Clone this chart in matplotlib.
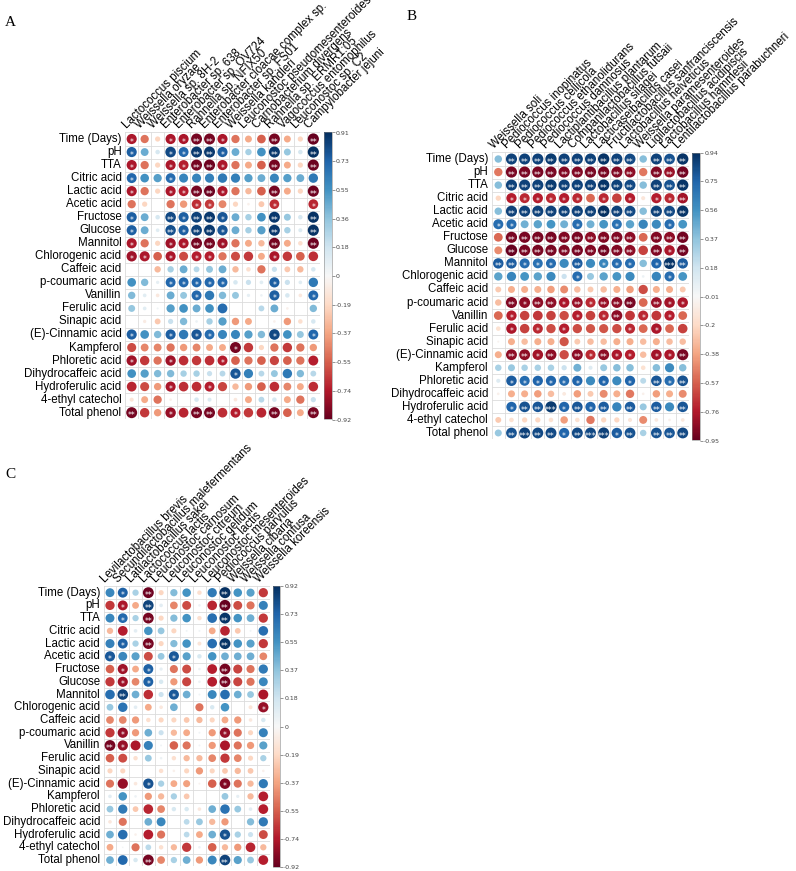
import numpy as np
import matplotlib.pyplot as plt
from matplotlib.patches import Circle
from matplotlib.cm import ScalarMappable
from matplotlib.colors import Normalize

rows = ['Time (Days)', 'pH', 'TTA', 'Citric acid', 'Lactic acid', 'Acetic acid',
        'Fructose', 'Glucose', 'Mannitol', 'Chlorogenic acid', 'Caffeic acid',
        'p-coumaric acid', 'Vanillin', 'Ferulic acid', 'Sinapic acid',
        '(E)-Cinnamic acid', 'Kampferol', 'Phloretic acid', 'Dihydrocaffeic acid',
        'Hydroferulic acid', '4-ethyl catechol', 'Total phenol']

# ---- panel A ----
colsA = ['Lactococcus piscium', 'Weissella oryzae', 'Weissella sp. 8H-2',
         'Enterobacter sp. 638', 'Enterobacter sp. OV724', 'Rahnella sp. NFIX50',
         'Enterobacter cloacae complex sp.', 'Enterobacter sp. FS01',
         'Weissella kandleri', 'Leuconostoc pseudomesenteroides',
         'Carnobacterium divergens', 'Rahnella sp. ERMR1:05',
         'Vagococcus entomophilus', 'Leuconostoc sp. C2', 'Campylobacter jejuni']
rA = [
    [-0.75, -0.5, -0.2, -0.75, -0.75, -0.88, -0.88, -0.75, -0.5, -0.35, -0.55, -0.88, -0.35, -0.2, -0.92],
    [0.75, 0.45, 0.15, 0.82, 0.72, 0.88, 0.88, 0.75, 0.45, 0.3, 0.55, 0.88, 0.35, 0.15, 0.91],
    [-0.75, -0.5, -0.2, -0.75, -0.72, -0.88, -0.9, -0.75, -0.5, -0.35, -0.55, -0.88, -0.35, -0.2, -0.9],
    [0.72, 0.55, 0.5, 0.7, 0.6, 0.6, 0.62, 0.65, 0.62, 0.5, 0.45, 0.6, 0.5, 0.45, 0.65],
    [-0.75, -0.5, -0.2, -0.75, -0.72, -0.88, -0.9, -0.75, -0.5, -0.3, -0.55, -0.88, -0.35, -0.2, -0.9],
    [-0.5, -0.2, 0.0, -0.5, -0.4, -0.68, -0.65, -0.45, -0.2, -0.05, -0.25, -0.68, 0.0, 0.0, -0.7],
    [0.75, 0.45, 0.15, 0.82, 0.75, 0.85, 0.88, 0.78, 0.45, 0.3, 0.55, 0.88, 0.35, 0.15, 0.9],
    [0.75, 0.45, 0.1, 0.8, 0.75, 0.85, 0.88, 0.78, 0.45, 0.3, 0.5, 0.88, 0.3, 0.12, 0.9],
    [-0.75, -0.5, -0.2, -0.78, -0.75, -0.88, -0.88, -0.78, -0.5, -0.35, -0.3, -0.88, -0.35, -0.15, -0.9],
    [-0.78, -0.75, -0.55, -0.75, -0.6, -0.72, -0.72, -0.5, -0.6, -0.65, -0.35, -0.75, -0.65, -0.55, -0.68],
    [0.0, 0.0, -0.3, 0.3, 0.45, 0.25, 0.35, 0.45, -0.3, -0.15, -0.5, 0.2, -0.25, -0.3, 0.15],
    [0.55, 0.4, 0.08, 0.72, 0.72, 0.72, 0.72, 0.72, 0.15, 0.2, 0.1, 0.75, 0.2, 0.1, 0.65],
    [0.4, 0.1, -0.1, 0.45, 0.35, 0.72, 0.65, 0.4, 0.35, 0.08, 0.05, 0.75, 0.15, -0.1, 0.72],
    [0.35, 0.1, 0.03, 0.5, 0.55, 0.45, 0.55, 0.7, 0.0, 0.0, 0.25, 0.45, -0.05, 0.0, 0.4],
    [0.0, -0.08, -0.25, 0.2, 0.4, 0.05, 0.3, 0.5, -0.4, -0.35, 0.0, -0.05, -0.4, -0.15, 0.15],
    [0.75, 0.55, 0.4, 0.75, 0.65, 0.78, 0.7, 0.6, 0.6, 0.5, 0.4, 0.82, 0.55, 0.35, 0.72],
    [-0.6, -0.45, -0.45, -0.5, -0.4, -0.45, -0.35, -0.35, -0.88, -0.65, -0.2, -0.5, -0.65, -0.5, -0.4],
    [-0.78, -0.65, -0.5, -0.78, -0.68, -0.65, -0.68, -0.72, -0.55, -0.5, -0.55, -0.62, -0.55, -0.5, -0.72],
    [0.55, 0.5, 0.4, 0.4, 0.3, 0.3, 0.2, 0.25, 0.78, 0.62, 0.25, 0.35, 0.65, 0.4, 0.25],
    [-0.7, -0.6, -0.4, -0.75, -0.68, -0.68, -0.72, -0.62, -0.3, -0.4, -0.55, -0.68, -0.45, -0.35, -0.68],
    [-0.12, -0.35, -0.5, -0.05, 0.0, 0.15, 0.12, 0.0, -0.1, -0.35, 0.25, 0.15, -0.35, -0.5, 0.2],
    [-0.88, -0.65, -0.4, -0.8, -0.7, -0.88, -0.88, -0.68, -0.72, -0.65, -0.7, -0.88, -0.55, -0.35, -0.88],
]
# number of stars per cell
sigA = ['100112210002002', '100112210002002', '100112210002002', '100100000000000',
        '100112210002002', '000001100001001', '100212210002002', '100212210002002',
        '100112210002002', '110101100001000', '000000000000000', '000111110001000',
        '000001000001001', '000000000000000', '000000000000000', '100101100001001',
        '000000001000000', '100100010000000', '000000001000000', '000100100000000',
        '000000000000000', '200102201002002']
ticksA = ['-0.92', '-0.74', '-0.55', '-0.37', '-0.19', '0', '0.18', '0.36', '0.55', '0.73', '0.91']

# ---- panel B ----
colsB = ['Weissella soli', 'Pediococcus inopinatus', 'Pediococcus cellicola',
         'Pediococcus ethanolidurans', 'Pediococcus damnosus',
         'Lactiplantibacillus plantarum', 'Companilactobacillus futsaii',
         'Lactobacillus silagei', 'Lacticaseibacillus casei',
         'Fructilactobacillus sanfranciscensis', 'Lactobacillus helveticus',
         'Weissella paramesenteroides', 'Ligilactobacillus acidipiscis',
         'Lactobacillus hammesii', 'Lentilactobacillus parabuchneri']
rB = [
    [0.4, 0.88, 0.88, 0.88, 0.9, 0.88, 0.88, 0.88, 0.92, 0.88, 0.85, 0.4, 0.88, 0.82, 0.92],
    [-0.5, -0.9, -0.9, -0.9, -0.9, -0.88, -0.88, -0.9, -0.9, -0.88, -0.85, -0.5, -0.88, -0.82, -0.92],
    [0.4, 0.88, 0.88, 0.88, 0.9, 0.88, 0.88, 0.88, 0.92, 0.88, 0.85, 0.4, 0.88, 0.82, 0.92],
    [-0.2, -0.75, -0.72, -0.75, -0.72, -0.75, -0.72, -0.55, -0.72, -0.65, -0.75, -0.12, -0.75, -0.72, -0.8],
    [0.4, 0.88, 0.88, 0.88, 0.88, 0.88, 0.88, 0.88, 0.94, 0.88, 0.85, 0.4, 0.88, 0.85, 0.92],
    [0.72, 0.72, 0.45, 0.5, 0.55, 0.45, 0.72, 0.45, 0.55, 0.7, 0.5, 0.62, 0.6, 0.72, 0.55],
    [-0.55, -0.9, -0.9, -0.9, -0.9, -0.88, -0.9, -0.85, -0.88, -0.88, -0.85, -0.55, -0.88, -0.85, -0.92],
    [-0.45, -0.95, -0.9, -0.9, -0.9, -0.88, -0.9, -0.88, -0.92, -0.88, -0.85, -0.65, -0.88, -0.78, -0.92],
    [0.78, 0.78, 0.72, 0.7, 0.72, 0.6, 0.78, 0.6, 0.62, 0.72, 0.72, 0.4, 0.75, 0.92, 0.78],
    [0.5, 0.62, 0.55, 0.5, 0.6, 0.2, 0.72, 0.35, 0.5, 0.55, 0.6, 0.05, 0.62, 0.72, 0.55],
    [-0.25, -0.35, -0.35, -0.35, -0.4, -0.45, -0.3, -0.25, -0.3, -0.35, -0.4, -0.62, -0.35, -0.35, -0.25],
    [-0.3, -0.88, -0.85, -0.85, -0.85, -0.78, -0.82, -0.72, -0.82, -0.85, -0.9, -0.55, -0.82, -0.8, -0.78],
    [-0.55, -0.75, -0.65, -0.68, -0.65, -0.62, -0.75, -0.65, -0.72, -0.85, -0.68, -0.72, -0.68, -0.75, -0.55],
    [-0.15, -0.78, -0.65, -0.72, -0.62, -0.75, -0.62, -0.6, -0.6, -0.62, -0.72, -0.55, -0.78, -0.55, -0.65],
    [-0.03, -0.35, -0.3, -0.35, -0.35, -0.6, -0.25, -0.3, -0.3, -0.35, -0.35, -0.3, -0.35, -0.3, -0.3],
    [-0.35, -0.85, -0.85, -0.8, -0.85, -0.62, -0.85, -0.72, -0.85, -0.78, -0.75, -0.3, -0.8, -0.78, -0.9],
    [0.3, 0.35, 0.3, 0.3, 0.3, 0.2, 0.45, 0.12, 0.35, 0.4, 0.4, -0.15, 0.4, 0.6, 0.4],
    [0.12, 0.78, 0.72, 0.75, 0.75, 0.72, 0.75, 0.6, 0.75, 0.6, 0.75, 0.25, 0.8, 0.72, 0.82],
    [-0.05, -0.35, -0.35, -0.4, -0.3, -0.1, -0.4, -0.25, -0.45, -0.35, -0.5, -0.05, -0.4, -0.35, -0.45],
    [0.0, 0.75, 0.82, 0.8, 0.9, 0.75, 0.8, 0.75, 0.78, 0.62, 0.78, 0.35, 0.78, 0.6, 0.8],
    [-0.25, -0.15, -0.2, -0.2, -0.15, -0.4, -0.15, -0.5, -0.2, -0.2, -0.12, -0.45, -0.1, -0.05, -0.1],
    [0.35, 0.82, 0.88, 0.85, 0.85, 0.75, 0.85, 0.85, 0.88, 0.78, 0.82, 0.3, 0.82, 0.8, 0.85],
]
sigB = ['022222222220222', '022222222220222', '022222222220222', '011111101010112',
        '022222222220222', '110000100100010', '022222222220222', '022222222220212',
        '221110201110132', '000000100000010', '000000000000000', '021221212220211',
        '010000101201010', '010101000010100', '000000000000000', '022120212110112',
        '000000000000000', '011111101010212', '000000000000000', '012231212020202',
        '000000000000000', '023221233120222']
ticksB = ['-0.95', '-0.76', '-0.57', '-0.38', '-0.2', '-0.01', '0.18', '0.37', '0.56', '0.75', '0.94']

# ---- panel C ----
colsC = ['Levilactobacillus brevis', 'Secundilactobacillus malefermentans',
         'Latilactobacillus sakei', 'Lactococcus lactis', 'Leuconostoc carnosum',
         'Leuconostoc citreum', 'Leuconostoc gelidum', 'Leuconostoc lactis',
         'Leuconostoc mesenteroides', 'Pediococcus parvulus', 'Weissella cibaria',
         'Weissella confusa', 'Weissella koreensis']
rC = [
    [0.6, 0.75, 0.3, -0.9, -0.2, 0.4, 0.55, -0.15, 0.65, 0.92, 0.55, 0.5, -0.65],
    [-0.65, -0.75, -0.35, 0.85, 0.1, -0.45, -0.6, 0.05, -0.7, -0.92, -0.6, -0.5, 0.62],
    [0.6, 0.72, 0.3, -0.88, -0.2, 0.4, 0.55, -0.15, 0.7, 0.9, 0.55, 0.45, -0.65],
    [-0.3, -0.72, 0.1, 0.55, 0.35, -0.2, 0.03, 0.03, -0.35, -0.7, -0.25, 0.03, 0.7],
    [0.62, 0.75, 0.3, -0.88, -0.2, 0.4, 0.55, -0.12, 0.7, 0.9, 0.55, 0.5, -0.65],
    [0.78, 0.6, 0.5, -0.6, 0.35, 0.78, 0.5, 0.15, 0.55, 0.45, 0.45, 0.45, -0.45],
    [-0.55, -0.78, -0.35, 0.75, 0.08, -0.5, -0.6, 0.05, -0.72, -0.88, -0.62, -0.5, 0.65],
    [-0.65, -0.78, -0.45, 0.75, 0.15, -0.4, -0.62, 0.05, -0.72, -0.88, -0.62, -0.5, 0.6],
    [0.7, 0.85, 0.45, -0.68, 0.2, 0.78, 0.45, 0.03, 0.6, 0.7, 0.45, 0.35, -0.75],
    [0.35, 0.68, 0.1, -0.35, -0.1, 0.45, 0.0, -0.5, 0.15, 0.55, 0.0, -0.12, -0.8],
    [-0.45, -0.45, -0.4, -0.15, -0.2, -0.2, -0.25, -0.3, -0.2, -0.35, -0.4, -0.1, 0.15],
    [-0.65, -0.8, -0.4, 0.45, 0.2, -0.3, -0.35, 0.03, -0.4, -0.8, -0.5, -0.2, 0.62],
    [-0.88, -0.8, -0.75, 0.62, 0.03, -0.55, -0.5, 0.03, -0.4, -0.75, -0.5, -0.4, 0.5],
    [-0.55, -0.6, -0.15, 0.35, 0.05, -0.15, -0.3, -0.3, -0.45, -0.65, -0.45, -0.2, 0.3],
    [-0.2, -0.2, 0.0, 0.0, -0.15, -0.05, -0.2, -0.4, -0.2, -0.25, -0.3, -0.25, -0.05],
    [-0.5, -0.8, -0.1, 0.8, 0.3, -0.35, -0.38, -0.03, -0.55, -0.85, -0.5, -0.3, 0.65],
    [0.1, 0.55, 0.05, -0.4, -0.3, 0.3, -0.25, 0.0, 0.0, 0.35, 0.08, -0.3, -0.72],
    [0.35, 0.65, -0.25, -0.7, -0.45, 0.15, 0.15, -0.1, 0.45, 0.68, 0.35, 0.1, -0.72],
    [-0.1, -0.5, 0.0, 0.45, 0.6, 0.0, 0.25, 0.35, -0.3, -0.4, 0.0, 0.4, 0.65],
    [0.45, 0.7, -0.05, -0.72, -0.5, 0.0, 0.25, -0.35, 0.45, 0.8, 0.3, 0.2, -0.6],
    [-0.35, 0.02, -0.5, 0.25, -0.15, -0.3, -0.65, 0.05, -0.55, -0.3, -0.4, -0.7, -0.3],
    [0.45, 0.72, 0.15, -0.88, -0.45, 0.3, 0.45, -0.4, 0.6, 0.85, 0.5, 0.35, -0.72],
]
sigC = ['0102000002000', '0102000002000', '0102000002000', '0000000000000',
        '0102000002000', '1000010000000', '0101000002000', '0101000002000',
        '0200010000000', '0000000000001', '0000000000000', '0100000001000',
        '2100000000000', '0000000000000', '0000000000000', '0001000001000',
        '0000000000000', '0000000000000', '0000000000000', '0000000001000',
        '0000000000000', '0002000002000']
ticksC = ['-0.92', '-0.74', '-0.55', '-0.37', '-0.19', '0', '0.18', '0.37', '0.55', '0.73', '0.92']

W, H = 796, 871
fig = plt.figure(figsize=(W / 100, H / 100), dpi=100)
cmap = plt.get_cmap('RdBu')
lab_font = 'Liberation Sans'


def px_axes(l, t, r, b):
    return fig.add_axes([l / W, 1 - b / H, (r - l) / W, (b - t) / H])


def corr_panel(vals, sig, cols, box, cbox, ticklabels, letter, letter_xy):
    vals = np.asarray(vals)
    nr, nc = vals.shape
    ax = px_axes(*box)
    ax.set_xlim(0.5, nc + 0.5)
    ax.set_ylim(nr + 0.5, 0.5)
    ax.axis('off')
    norm = Normalize(vals.min(), vals.max())

    for k in range(nr + 1):
        ax.plot([0.5, nc + 0.5], [k + 0.5, k + 0.5], color='#dcdcdc', lw=0.6, zorder=1)
    for k in range(nc + 1):
        ax.plot([k + 0.5, k + 0.5], [0.5, nr + 0.5], color='#dcdcdc', lw=0.6, zorder=1)

    for i in range(nr):
        for j in range(nc):
            v = vals[i, j]
            ax.add_patch(Circle((j + 1, i + 1), 0.45 * np.sqrt(abs(v)),
                                facecolor=cmap(norm(v)), edgecolor='none', zorder=2))
            n = int(sig[i][j])
            if n:
                ax.text(j + 1, i + 1.25, '*' * n, ha='center', va='center',
                        color='white', fontsize=5.5, zorder=3)

    for i, name in enumerate(rows):
        ax.text(0.22, i + 1, name, ha='right', va='center', fontsize=8.3,
                family=lab_font, clip_on=False)
    for j, name in enumerate(cols):
        ax.text(j + 0.8, 0.4, name, ha='left', va='bottom', rotation=45,
                rotation_mode='anchor', fontsize=8.3, family=lab_font, clip_on=False)

    cax = px_axes(*cbox)
    cb = fig.colorbar(ScalarMappable(norm=norm, cmap=cmap), cax=cax)
    cb.set_ticks(np.linspace(vals.min(), vals.max(), 11))
    cb.set_ticklabels(ticklabels)
    cb.ax.tick_params(labelsize=4.5, length=2, width=0.4, colors='#444444', pad=1)
    cb.outline.set_linewidth(0.4)
    cb.outline.set_edgecolor('#888888')

    fig.text(letter_xy[0] / W, 1 - letter_xy[1] / H, letter, fontsize=11,
             family='Liberation Serif', ha='left', va='center')


corr_panel(rA, sigA, colsA, (125.2, 132.5, 319.8, 419.2), (324, 132.5, 331.7, 419.5),
           ticksA, 'A', (5, 22))
corr_panel(rB, sigB, colsB, (491.7, 152.5, 689.3, 439.5), (692.3, 152.7, 700, 440.5),
           ticksB, 'B', (407, 16))
corr_panel(rC, sigC, colsC, (103.6, 586.3, 269.7, 866.4), (272.7, 586, 280, 867),
           ticksC, 'C', (5, 475))

fig.savefig('out.png', dpi=100)
